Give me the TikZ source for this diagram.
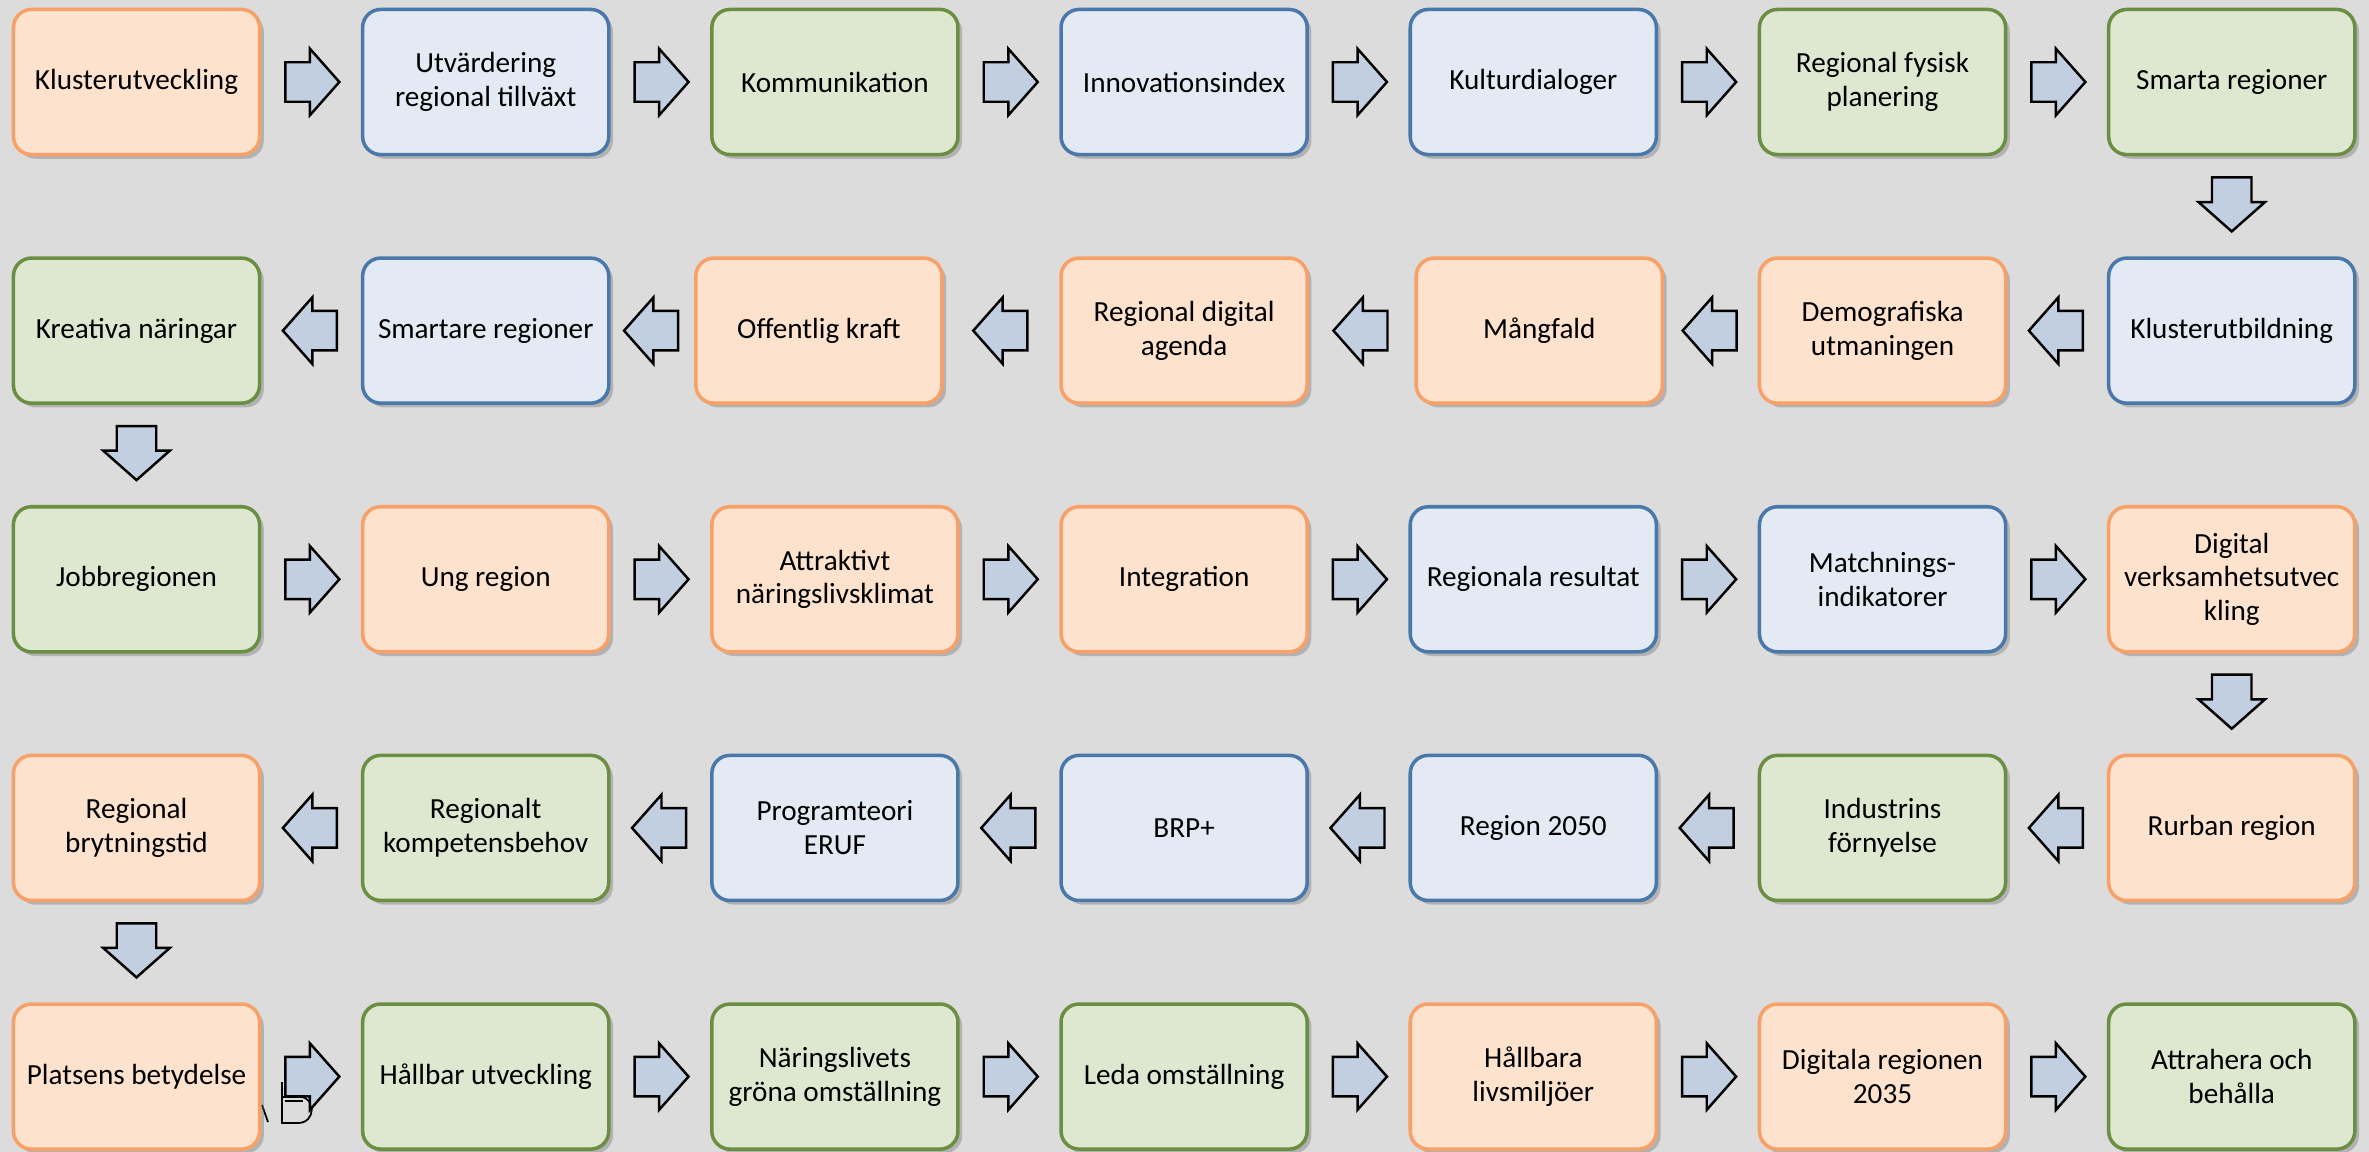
\documentclass[tikz,border=0pt]{standalone}
\usepackage{fontspec}
\setmainfont{Carlito}
\usetikzlibrary{positioning,shapes.arrows,shadows,calc}
\definecolor{bgconcrete}{HTML}{DCDCDC}
\definecolor{orfill}{HTML}{FDE2CD}
\definecolor{orline}{HTML}{F7A068}
\definecolor{blfill}{HTML}{E3EAF4}
\definecolor{blline}{HTML}{4A78AA}
\definecolor{grfill}{HTML}{DEE8D0}
\definecolor{grline}{HTML}{6B8F42}
\definecolor{flowfill}{HTML}{C2CFE1}
\tikzset{
  box/.style={
    draw, line width=1pt, rounded corners=0.18cm,
    minimum width=2.46cm, minimum height=1.45cm, outer sep=0pt,
    align=center, inner sep=2pt,
    font=\fontsize{8.3}{9.6}\selectfont,
    drop shadow={shadow xshift=1.2pt, shadow yshift=-1.2pt, opacity=.35, fill=black!60}
  },
  orbox/.style={box, draw=orline, fill=orfill},
  blbox/.style={box, draw=blline, fill=blfill},
  grbox/.style={box, draw=grline, fill=grfill},
  flow/.style={
    single arrow, draw=black, fill=flowfill, line width=0.7pt,
    inner sep=0pt, minimum height=0.54cm, anchor=tail,
    single arrow head extend=0.135cm, single arrow tip angle=97
  },
  flowright/.style={flow, inner ysep=0.185cm, xshift=-0.27cm},
  flowleft/.style={flow, inner ysep=0.185cm, shape border rotate=180, xshift=0.27cm},
  flowdown/.style={flow, inner xsep=0.185cm, shape border rotate=270, yshift=0.27cm},
}

\begin{document}
\begin{tikzpicture}[x=0.01cm, y=-0.01cm, node distance=1.035cm and 1.03cm]
\fill[bgconcrete] (0,0) rectangle (2369,1152);
\useasboundingbox (0,0) rectangle (2369,1152);

% leftover outline letters behind the first box of the last row
\draw[line width=0.5pt] (282,1082) -- (282,1123) -- (298,1123)
  .. controls (316,1123) and (316,1097) .. (300,1097) -- (282,1097);
\draw[line width=0.5pt] (285,1101) -- (303,1101);
\draw[line width=0.5pt] (262,1105) -- (268,1122);

% row 1
\node[orbox] (r1c1) at (136.5,82) {Klusterutveckling};
\node[blbox, right=of r1c1] (r1c2) {Utvärdering\\regional tillväxt};
\node[grbox, right=of r1c2] (r1c3) {Kommunikation};
\node[blbox, right=of r1c3] (r1c4) {Innovationsindex};
\node[blbox, right=of r1c4] (r1c5) {Kulturdialoger};
\node[grbox, right=of r1c5] (r1c6) {Regional fysisk\\planering};
\node[grbox, right=of r1c6] (r1c7) {Smarta regioner};

% row 2 (runs right to left)
\node[blbox, below=of r1c7] (r2c7) {Klusterutbildning};
\node[orbox, left=of r2c7] (r2c6) {Demografiska\\utmaningen};
\node[orbox, left=0.97cm of r2c6] (r2c5) {Mångfald};
\node[orbox, left=1.09cm of r2c5] (r2c4) {Regional digital\\agenda};
\node[orbox, left=1.19cm of r2c4] (r2c3) {Offentlig kraft};
\node[blbox, left=0.87cm of r2c3] (r2c2) {Smartare regioner};
\node[grbox, left=of r2c2] (r2c1) {Kreativa näringar};

% row 3
\node[grbox, below=of r2c1] (r3c1) {Jobbregionen};
\node[orbox, right=of r3c1] (r3c2) {Ung region};
\node[orbox, right=of r3c2] (r3c3) {Attraktivt\\näringslivsklimat};
\node[orbox, right=of r3c3] (r3c4) {Integration};
\node[blbox, right=of r3c4] (r3c5) {Regionala resultat};
\node[blbox, right=of r3c5] (r3c6) {Matchnings-\\indikatorer};
\node[orbox, right=of r3c6] (r3c7) {Digital\\verksamhetsutvec\\kling};

% row 4 (runs right to left)
\node[orbox, below=of r3c7] (r4c7) {Rurban region};
\node[grbox, left=of r4c7] (r4c6) {Industrins\\förnyelse};
\node[blbox, left=of r4c6] (r4c5) {Region 2050};
\node[blbox, left=of r4c5] (r4c4) {BRP+};
\node[blbox, left=of r4c4] (r4c3) {Programteori\\ERUF};
\node[grbox, left=of r4c3] (r4c2) {Regionalt\\kompetensbehov};
\node[orbox, left=of r4c2] (r4c1) {Regional\\brytningstid};

% row 5
\node[orbox, below=of r4c1] (r5c1) {Platsens betydelse};
\node[grbox, right=of r5c1] (r5c2) {Hållbar utveckling};
\node[grbox, right=of r5c2] (r5c3) {Näringslivets\\gröna omställning};
\node[grbox, right=of r5c3] (r5c4) {Leda omställning};
\node[orbox, right=of r5c4] (r5c5) {Hållbara\\livsmiljöer};
\node[orbox, right=of r5c5] (r5c6) {Digitala regionen\\2035};
\node[grbox, right=of r5c6] (r5c7) {Attrahera och\\behålla};

% arrows
\foreach \row in {1,3,5}
  \foreach \col/\nxt in {1/2,2/3,3/4,4/5,5/6,6/7}
    \node[flowright] (f\row\col) at ($(r\row c\col.east)!0.5!(r\row c\nxt.west)$) {};
\foreach \row in {2,4}
  \foreach \col/\nxt in {1/2,2/3,3/4,4/5,5/6,6/7}
    \node[flowleft] (f\row\col) at ($(r\row c\col.east)!0.5!(r\row c\nxt.west)$) {};
\node[flowdown] (d12) at ($(r1c7.south)!0.47!(r2c7.north)$) {};
\node[flowdown] (d23) at ($(r2c1.south)!0.47!(r3c1.north)$) {};
\node[flowdown] (d34) at ($(r3c7.south)!0.47!(r4c7.north)$) {};
\node[flowdown] (d45) at ($(r4c1.south)!0.47!(r5c1.north)$) {};
\end{tikzpicture}
\end{document}
